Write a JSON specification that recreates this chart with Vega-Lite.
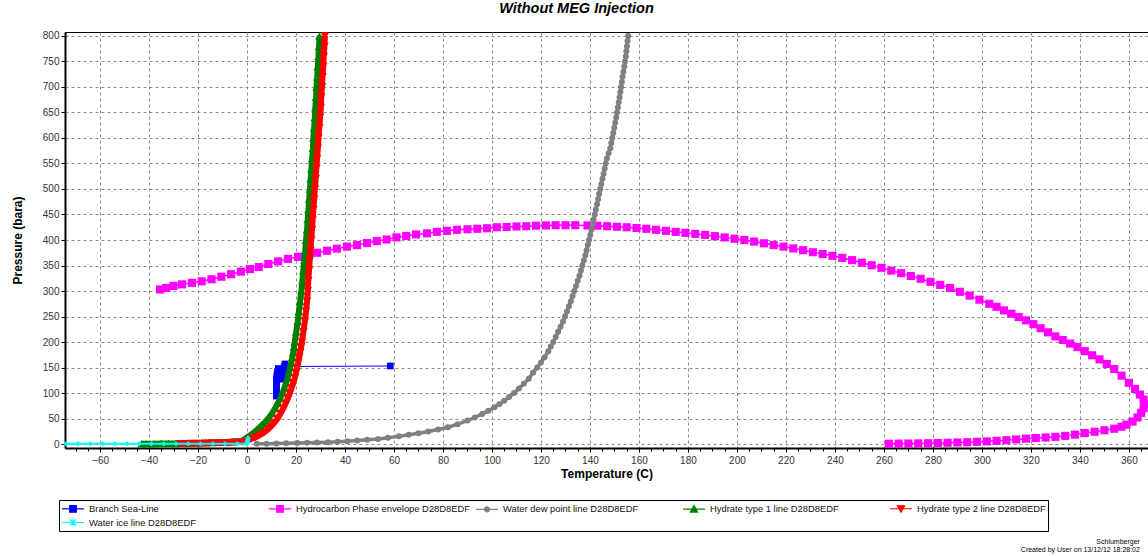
{
  "$schema": "https://vega.github.io/schema/vega-lite/v6.json",
  "autosize": {"type": "none"},
  "padding": {"left": 65, "top": 32, "right": 0, "bottom": 108},
  "width": 1083,
  "height": 416,
  "background": "white",
  "title": {"text": "Without MEG Injection", "fontSize": 14.5, "fontWeight": "bold", "fontStyle": "italic", "color": "#000", "anchor": "middle", "offset": 7, "dx": -30},
  "datasets": {
    "branch": [
      {"i":0,"t":58.5,"p":153},{"i":2,"t":17,"p":152},{"i":3,"t":15.5,"p":157},{"i":4,"t":15.2,"p":152},{"i":5,"t":15,"p":147},{"i":6,"t":14.8,"p":142},{"i":7,"t":14.6,"p":137},{"i":8,"t":14.4,"p":132},{"i":9,"t":14.2,"p":127},{"i":10,"t":12.8,"p":148},{"i":11,"t":12.5,"p":143},{"i":12,"t":12.3,"p":138},{"i":13,"t":12.2,"p":133},{"i":14,"t":12.1,"p":128},{"i":15,"t":12,"p":123},{"i":16,"t":12,"p":118},{"i":17,"t":12,"p":113},{"i":18,"t":12,"p":108},{"i":19,"t":12,"p":103},{"i":20,"t":12,"p":98},{"i":21,"t":12,"p":94}
    ],
    "envelope": [
      {"i":0,"t":-35.5,"p":303},{"i":1,"t":-33,"p":306},{"i":2,"t":-30,"p":310},{"i":3,"t":-26.5,"p":313},{"i":4,"t":-22.5,"p":316},{"i":5,"t":-18.5,"p":319},{"i":6,"t":-14.5,"p":323},{"i":7,"t":-10.5,"p":328},{"i":8,"t":-6.5,"p":333},{"i":9,"t":-2.5,"p":338},{"i":10,"t":1.2,"p":343},{"i":11,"t":4.8,"p":347},{"i":12,"t":8.7,"p":353},{"i":13,"t":12.7,"p":358},{"i":14,"t":16.7,"p":363},{"i":15,"t":20.8,"p":367},{"i":16,"t":24.7,"p":371},{"i":17,"t":28.6,"p":375},{"i":18,"t":32.7,"p":379},{"i":19,"t":36.7,"p":383},{"i":20,"t":40.8,"p":387},{"i":21,"t":44.9,"p":390},{"i":22,"t":49,"p":394},{"i":23,"t":53,"p":398},{"i":24,"t":57,"p":401},{"i":25,"t":61,"p":405},{"i":26,"t":65,"p":408},{"i":27,"t":69,"p":411},{"i":28,"t":73.5,"p":413},{"i":29,"t":77.5,"p":416},{"i":30,"t":81.6,"p":418},{"i":31,"t":85.7,"p":420},{"i":32,"t":90,"p":421},{"i":33,"t":94,"p":422},{"i":34,"t":98,"p":423},{"i":35,"t":102,"p":425},{"i":36,"t":106,"p":425.5},{"i":37,"t":110,"p":426.5},{"i":38,"t":114,"p":427},{"i":39,"t":118,"p":428},{"i":40,"t":122,"p":428.5},{"i":41,"t":126,"p":429},{"i":42,"t":130,"p":429},{"i":43,"t":134,"p":429},{"i":44,"t":139,"p":428.5},{"i":45,"t":143,"p":428},{"i":46,"t":147,"p":427},{"i":47,"t":151,"p":426},{"i":48,"t":155,"p":425},{"i":49,"t":159,"p":423.5},{"i":50,"t":163,"p":422},{"i":51,"t":167,"p":420},{"i":52,"t":171,"p":418},{"i":53,"t":175,"p":416},{"i":54,"t":179,"p":414},{"i":55,"t":183,"p":412},{"i":56,"t":187,"p":410},{"i":57,"t":191,"p":407.5},{"i":58,"t":195,"p":405},{"i":59,"t":199,"p":402.5},{"i":60,"t":203,"p":400},{"i":61,"t":207,"p":397},{"i":62,"t":211,"p":393.5},{"i":63,"t":215,"p":390},{"i":64,"t":219,"p":387},{"i":65,"t":223,"p":383.5},{"i":66,"t":227,"p":380},{"i":67,"t":231,"p":376},{"i":68,"t":235,"p":372.5},{"i":69,"t":239,"p":369},{"i":70,"t":243,"p":365},{"i":71,"t":247,"p":360.5},{"i":72,"t":251,"p":355.5},{"i":73,"t":255,"p":350.5},{"i":74,"t":259,"p":345.5},{"i":75,"t":263,"p":340},{"i":76,"t":267,"p":335},{"i":77,"t":271,"p":329.5},{"i":78,"t":275,"p":324},{"i":79,"t":279,"p":318},{"i":80,"t":283,"p":312},{"i":81,"t":287,"p":306},{"i":82,"t":291,"p":298.5},{"i":83,"t":295,"p":291},{"i":84,"t":299,"p":283},{"i":85,"t":303,"p":275},{"i":86,"t":306,"p":269},{"i":87,"t":309,"p":262},{"i":88,"t":312,"p":255.5},{"i":89,"t":315,"p":249},{"i":90,"t":318,"p":242.5},{"i":91,"t":321,"p":235},{"i":92,"t":324,"p":227},{"i":93,"t":327,"p":219},{"i":94,"t":330,"p":211},{"i":95,"t":333,"p":204},{"i":96,"t":336,"p":197},{"i":97,"t":339,"p":190},{"i":98,"t":342,"p":182},{"i":99,"t":345,"p":174},{"i":100,"t":348,"p":166},{"i":101,"t":351,"p":157},{"i":102,"t":354,"p":147},{"i":103,"t":357,"p":134},{"i":104,"t":360,"p":120},{"i":105,"t":362.5,"p":108},{"i":106,"t":364.5,"p":97},{"i":107,"t":366,"p":87},{"i":108,"t":366.5,"p":78},{"i":109,"t":366,"p":70},{"i":110,"t":365,"p":61},{"i":111,"t":363.5,"p":52},{"i":112,"t":361.5,"p":44},{"i":113,"t":359,"p":38},{"i":114,"t":357,"p":34},{"i":115,"t":354,"p":30},{"i":116,"t":350,"p":27},{"i":117,"t":346,"p":24},{"i":118,"t":342,"p":21.5},{"i":119,"t":338,"p":18.5},{"i":120,"t":334,"p":16},{"i":121,"t":330,"p":14},{"i":122,"t":326,"p":12.8},{"i":123,"t":322,"p":11.8},{"i":124,"t":318,"p":10.5},{"i":125,"t":314,"p":9},{"i":126,"t":310,"p":7.5},{"i":127,"t":306,"p":6.2},{"i":128,"t":302,"p":5.2},{"i":129,"t":298,"p":4.3},{"i":130,"t":294,"p":3.6},{"i":131,"t":290,"p":3},{"i":132,"t":286,"p":2.5},{"i":133,"t":282,"p":2},{"i":134,"t":278,"p":1.6},{"i":135,"t":274,"p":1.3},{"i":136,"t":270,"p":1},{"i":137,"t":266,"p":0.8},{"i":138,"t":262,"p":0.6}
    ],
    "dew": [
      {"i":0,"t":4,"p":0.5},{"i":1,"t":8,"p":0.7},{"i":2,"t":12,"p":1},{"i":3,"t":16,"p":1.4},{"i":4,"t":20.5,"p":1.9},{"i":5,"t":24.5,"p":2.4},{"i":6,"t":28.5,"p":3},{"i":7,"t":33,"p":3.6},{"i":8,"t":37,"p":4.4},{"i":9,"t":41,"p":5.4},{"i":10,"t":45,"p":6.7},{"i":11,"t":49,"p":8.2},{"i":12,"t":53.5,"p":10},{"i":13,"t":57.5,"p":12.3},{"i":14,"t":62,"p":15},{"i":15,"t":66,"p":18},{"i":16,"t":70,"p":21},{"i":17,"t":74,"p":24.5},{"i":18,"t":78,"p":28.5},{"i":19,"t":82,"p":33},{"i":20,"t":86,"p":39},{"i":21,"t":90,"p":46},{"i":22,"t":93,"p":52},{"i":23,"t":96,"p":59},{"i":24,"t":98.5,"p":65},{"i":25,"t":101,"p":72},{"i":26,"t":103,"p":78},{"i":27,"t":105,"p":85},{"i":28,"t":107,"p":92},{"i":29,"t":109,"p":100},{"i":30,"t":111,"p":109},{"i":31,"t":113,"p":118},{"i":32,"t":115,"p":128},{"i":33,"t":116.8,"p":140},{"i":34,"t":118.5,"p":150},{"i":35,"t":120,"p":160},{"i":36,"t":121.5,"p":170},{"i":37,"t":123,"p":182},{"i":38,"t":124,"p":191},{"i":39,"t":125,"p":200},{"i":40,"t":126,"p":210},{"i":41,"t":127,"p":220},{"i":42,"t":128,"p":230},{"i":43,"t":129,"p":240},{"i":44,"t":129.8,"p":250},{"i":45,"t":130.6,"p":260},{"i":46,"t":131.4,"p":270},{"i":47,"t":132.2,"p":280},{"i":48,"t":132.9,"p":290},{"i":49,"t":133.6,"p":300},{"i":50,"t":134.3,"p":310},{"i":51,"t":135,"p":320},{"i":52,"t":135.7,"p":330},{"i":53,"t":136.3,"p":340},{"i":54,"t":136.9,"p":350},{"i":55,"t":137.5,"p":360},{"i":56,"t":138.1,"p":370},{"i":57,"t":138.6,"p":380},{"i":58,"t":139.1,"p":390},{"i":59,"t":139.6,"p":400},{"i":60,"t":140.1,"p":410},{"i":61,"t":140.6,"p":420},{"i":62,"t":141.1,"p":430},{"i":63,"t":141.5,"p":440},{"i":64,"t":142,"p":450},{"i":65,"t":142.4,"p":460},{"i":66,"t":142.9,"p":470},{"i":67,"t":143.3,"p":480},{"i":68,"t":143.75,"p":490},{"i":69,"t":144.2,"p":500},{"i":70,"t":144.65,"p":510},{"i":71,"t":145.1,"p":520},{"i":72,"t":145.55,"p":530},{"i":73,"t":146,"p":540},{"i":74,"t":146.45,"p":550},{"i":75,"t":146.9,"p":560},{"i":76,"t":147.6,"p":570},{"i":77,"t":148.3,"p":580},{"i":78,"t":148.7,"p":590},{"i":79,"t":149.1,"p":600},{"i":80,"t":149.5,"p":610},{"i":81,"t":149.9,"p":620},{"i":82,"t":150.3,"p":630},{"i":83,"t":150.7,"p":640},{"i":84,"t":151.05,"p":650},{"i":85,"t":151.4,"p":660},{"i":86,"t":151.75,"p":670},{"i":87,"t":152.1,"p":680},{"i":88,"t":152.4,"p":690},{"i":89,"t":152.7,"p":700},{"i":90,"t":153,"p":710},{"i":91,"t":153.3,"p":720},{"i":92,"t":153.65,"p":730},{"i":93,"t":154,"p":740},{"i":94,"t":154.3,"p":750},{"i":95,"t":154.6,"p":760},{"i":96,"t":154.85,"p":770},{"i":97,"t":155.1,"p":780},{"i":98,"t":155.35,"p":790},{"i":99,"t":155.6,"p":800}
    ],
    "hydrate1": [
      {"i":0,"t":-43,"p":0.5},{"i":1,"t":-41,"p":0.6},{"i":2,"t":-38,"p":0.7},{"i":3,"t":-35,"p":0.8},{"i":4,"t":-32,"p":0.9},{"i":5,"t":-29,"p":1.1},{"i":6,"t":-26,"p":1.3},{"i":7,"t":-23,"p":1.6},{"i":8,"t":-20,"p":2},{"i":9,"t":-17,"p":2.4},{"i":10,"t":-14,"p":2.9},{"i":11,"t":-11,"p":3.5},{"i":12,"t":-8,"p":4.2},{"i":13,"t":-5,"p":5},{"i":14,"t":-2,"p":6},{"i":15,"t":0,"p":13},{"i":16,"t":1.2,"p":17},{"i":17,"t":2.6,"p":22},{"i":18,"t":4.1,"p":28},{"i":19,"t":5.7,"p":35},{"i":20,"t":7.2,"p":42},{"i":21,"t":8.7,"p":50},{"i":22,"t":10.2,"p":60},{"i":23,"t":11.5,"p":70},{"i":24,"t":12.6,"p":80},{"i":25,"t":13.6,"p":90},{"i":26,"t":14.5,"p":100},{"i":27,"t":15.3,"p":110},{"i":28,"t":16,"p":120},{"i":29,"t":16.6,"p":130},{"i":30,"t":17.1,"p":140},{"i":31,"t":17.6,"p":150},{"i":32,"t":18.1,"p":160},{"i":33,"t":18.5,"p":170},{"i":34,"t":18.9,"p":180},{"i":35,"t":19.2,"p":190},{"i":36,"t":19.5,"p":200},{"i":37,"t":20.1,"p":220},{"i":38,"t":20.7,"p":240},{"i":39,"t":21.2,"p":260},{"i":40,"t":21.7,"p":280},{"i":41,"t":22.2,"p":300},{"i":42,"t":22.6,"p":320},{"i":43,"t":23,"p":340},{"i":44,"t":23.4,"p":360},{"i":45,"t":23.8,"p":380},{"i":46,"t":24.1,"p":400},{"i":47,"t":24.5,"p":420},{"i":48,"t":24.8,"p":440},{"i":49,"t":25.1,"p":460},{"i":50,"t":25.4,"p":480},{"i":51,"t":25.7,"p":500},{"i":52,"t":26,"p":520},{"i":53,"t":26.3,"p":540},{"i":54,"t":26.6,"p":560},{"i":55,"t":26.9,"p":580},{"i":56,"t":27.1,"p":600},{"i":57,"t":27.4,"p":620},{"i":58,"t":27.7,"p":640},{"i":59,"t":27.9,"p":660},{"i":60,"t":28.2,"p":680},{"i":61,"t":28.4,"p":700},{"i":62,"t":28.7,"p":720},{"i":63,"t":28.9,"p":740},{"i":64,"t":29.2,"p":760},{"i":65,"t":29.4,"p":780},{"i":66,"t":29.6,"p":800}
    ],
    "hydrate2": [
      {"i":0,"t":-27.5,"p":0.5},{"i":1,"t":-26,"p":0.6},{"i":2,"t":-23,"p":0.8},{"i":3,"t":-20,"p":1.1},{"i":4,"t":-17,"p":1.4},{"i":5,"t":-14,"p":1.8},{"i":6,"t":-11,"p":2.2},{"i":7,"t":-8,"p":2.7},{"i":8,"t":-5,"p":3.3},{"i":9,"t":-2,"p":4},{"i":10,"t":0.3,"p":8},{"i":11,"t":1.6,"p":10},{"i":12,"t":3.3,"p":13},{"i":13,"t":5,"p":17},{"i":14,"t":6.8,"p":22},{"i":15,"t":8.4,"p":28},{"i":16,"t":9.9,"p":35},{"i":17,"t":11.2,"p":42},{"i":18,"t":12.5,"p":50},{"i":19,"t":13.7,"p":60},{"i":20,"t":14.8,"p":70},{"i":21,"t":15.8,"p":80},{"i":22,"t":16.7,"p":90},{"i":23,"t":17.5,"p":100},{"i":24,"t":18.2,"p":110},{"i":25,"t":18.9,"p":120},{"i":26,"t":19.5,"p":130},{"i":27,"t":20,"p":140},{"i":28,"t":20.5,"p":150},{"i":29,"t":20.9,"p":160},{"i":30,"t":21.3,"p":170},{"i":31,"t":21.7,"p":180},{"i":32,"t":22.1,"p":190},{"i":33,"t":22.4,"p":200},{"i":34,"t":23,"p":220},{"i":35,"t":23.6,"p":240},{"i":36,"t":24.1,"p":260},{"i":37,"t":24.5,"p":280},{"i":38,"t":24.8,"p":300},{"i":39,"t":25,"p":320},{"i":40,"t":25.3,"p":340},{"i":41,"t":25.6,"p":360},{"i":42,"t":25.9,"p":380},{"i":43,"t":26.2,"p":400},{"i":44,"t":26.5,"p":420},{"i":45,"t":26.8,"p":440},{"i":46,"t":27.1,"p":460},{"i":47,"t":27.4,"p":480},{"i":48,"t":27.7,"p":500},{"i":49,"t":28,"p":520},{"i":50,"t":28.3,"p":540},{"i":51,"t":28.6,"p":560},{"i":52,"t":28.9,"p":580},{"i":53,"t":29.2,"p":600},{"i":54,"t":29.5,"p":620},{"i":55,"t":29.8,"p":640},{"i":56,"t":30.1,"p":660},{"i":57,"t":30.3,"p":680},{"i":58,"t":30.6,"p":700},{"i":59,"t":30.8,"p":720},{"i":60,"t":31.1,"p":740},{"i":61,"t":31.3,"p":760},{"i":62,"t":31.6,"p":780},{"i":63,"t":31.8,"p":800}
    ],
    "ice": [
      {"i":0,"t":-74,"p":0.5},{"i":1,"t":-69,"p":0.5},{"i":2,"t":-64,"p":0.5},{"i":3,"t":-59,"p":0.5},{"i":4,"t":-54,"p":0.5},{"i":5,"t":-49,"p":0.5},{"i":6,"t":-44,"p":0.5},{"i":7,"t":-39,"p":0.5},{"i":8,"t":-34,"p":0.5},{"i":9,"t":-29,"p":0.5},{"i":10,"t":-24,"p":0.5},{"i":11,"t":-19,"p":0.5},{"i":12,"t":-14,"p":0.5},{"i":13,"t":-9,"p":0.5},{"i":14,"t":-4,"p":0.5},{"i":15,"t":0,"p":0.6},{"i":16,"t":0,"p":3},{"i":17,"t":0.2,"p":6},{"i":18,"t":0.3,"p":9},{"i":19,"t":0.4,"p":12}
    ]
  },
  "resolve": {"axis": {"x": "independent"}},
  "layer": [
    {
      "data": {"name": "branch"},
      "mark": {"type": "line", "strokeWidth": 1.2, "point": {"filled": true, "shape": "square", "size": 45, "opacity": 1}},
      "encoding": {
        "x": {"field": "t", "type": "quantitative", "scale": {"domain": [-74.3, 367.8], "nice": false, "zero": false},
          "axis": {"orient": "bottom", "tickCount": 22, "title": "Temperature (C)", "titlePadding": 3, "labelPadding": 3, "grid": true, "labelOverlap": false}},
        "y": {"field": "p", "type": "quantitative", "scale": {"domain": [-7.8, 807.8], "nice": false, "zero": false},
          "axis": {"tickCount": 17, "title": "Pressure (bara)", "titlePadding": 18, "labelPadding": 2, "grid": true, "labelOverlap": false}},
        "color": {"datum": "Branch Sea-Line",
          "scale": {"domain": ["Branch Sea-Line", "Hydrocarbon Phase envelope D28D8EDF", "Water dew point line D28D8EDF", "Hydrate type 1 line D28D8EDF", "Hydrate type 2 line D28D8EDF", "Water ice line D28D8EDF"], "range": ["#0000FF", "#FF00FF", "#808080", "#008000", "#FF0000", "#00FFFF"]},
          "legend": {"title": null, "orient": "none", "legendX": -6, "legendY": 468, "direction": "horizontal", "columns": 5, "gridAlign": "all", "columnPadding": 2, "rowPadding": 1, "padding": 2, "strokeColor": "#000", "fillColor": "#fff", "labelFontSize": 9.4, "labelColor": "#111", "labelOffset": 15, "labelLimit": 400, "symbolSize": 121, "symbolStrokeWidth": 1.2, "symbolOpacity": 1,
            "encoding": {"symbols": {
              "shape": {"value": {"expr": "datum.value == 'Branch Sea-Line' || datum.value == 'Hydrocarbon Phase envelope D28D8EDF' ? 'M-1,0H3M0.4,-0.6H1.6V0.6H0.4Z' : datum.value == 'Water dew point line D28D8EDF' ? 'M-1,0H3M0.55,0A0.45,0.45 0 1,0 1.45,0A0.45,0.45 0 1,0 0.55,0Z' : datum.value == 'Hydrate type 1 line D28D8EDF' ? 'M-1,0H3M0.35,0.55L1,-0.65L1.65,0.55Z' : datum.value == 'Hydrate type 2 line D28D8EDF' ? 'M-1,0H3M0.35,-0.55L1,0.65L1.65,-0.55Z' : 'M-1,0H3M0.45,-0.55L1.55,0.55M0.45,0.55L1.55,-0.55M1,-0.7V0.7'"}},
              "fill": {"value": {"expr": "scale('color', datum.value)"}},
              "stroke": {"value": {"expr": "scale('color', datum.value)"}},
              "strokeWidth": {"value": 1.2},
              "size": {"value": 121},
              "opacity": {"value": 1}
            }}}},
        "order": {"field": "i", "type": "quantitative"}
      }
    },
    {
      "data": {"name": "envelope"},
      "mark": {"type": "line", "strokeWidth": 1.5, "point": {"filled": true, "shape": "square", "size": 66, "opacity": 1}},
      "encoding": {
        "x": {"field": "t", "type": "quantitative", "axis": null},
        "y": {"field": "p", "type": "quantitative"},
        "color": {"datum": "Hydrocarbon Phase envelope D28D8EDF"},
        "order": {"field": "i", "type": "quantitative"}
      }
    },
    {
      "data": {"name": "dew"},
      "mark": {"type": "line", "strokeWidth": 3.5, "point": {"filled": true, "shape": "circle", "size": 36, "opacity": 1}},
      "encoding": {
        "x": {"field": "t", "type": "quantitative", "axis": null},
        "y": {"field": "p", "type": "quantitative"},
        "color": {"datum": "Water dew point line D28D8EDF"},
        "order": {"field": "i", "type": "quantitative"}
      }
    },
    {
      "data": {"name": "hydrate1"},
      "mark": {"type": "line", "strokeWidth": 6, "point": {"filled": true, "shape": "triangle-up", "size": 75, "opacity": 1}},
      "encoding": {
        "x": {"field": "t", "type": "quantitative", "axis": null},
        "y": {"field": "p", "type": "quantitative"},
        "color": {"datum": "Hydrate type 1 line D28D8EDF"},
        "order": {"field": "i", "type": "quantitative"}
      }
    },
    {
      "data": {"name": "hydrate2"},
      "mark": {"type": "line", "strokeWidth": 6, "point": {"filled": true, "shape": "triangle-down", "size": 75, "opacity": 1}},
      "encoding": {
        "x": {"field": "t", "type": "quantitative", "axis": null},
        "y": {"field": "p", "type": "quantitative"},
        "color": {"datum": "Hydrate type 2 line D28D8EDF"},
        "order": {"field": "i", "type": "quantitative"}
      }
    },
    {
      "data": {"name": "ice"},
      "mark": {"type": "line", "strokeWidth": 2, "point": {"filled": true, "shape": "cross", "size": 22, "opacity": 1}},
      "encoding": {
        "x": {"field": "t", "type": "quantitative", "axis": null},
        "y": {"field": "p", "type": "quantitative"},
        "color": {"datum": "Water ice line D28D8EDF"},
        "order": {"field": "i", "type": "quantitative"}
      }
    },
    {
      "data": {"values": [{"note": "footer"}]},
      "mark": {"type": "text", "align": "right", "baseline": "middle", "fontSize": 7, "lineHeight": 8, "color": "#000"},
      "encoding": {
        "x": {"datum": 364.5, "type": "quantitative",
          "axis": {"orient": "bottom", "values": [-70,-65,-55,-50,-45,-35,-30,-25,-15,-10,-5,5,10,15,25,30,35,45,50,55,65,70,75,85,90,95,105,110,115,125,130,135,145,150,155,165,170,175,185,190,195,205,210,215,225,230,235,245,250,255,265,270,275,285,290,295,305,310,315,325,330,335,345,350,355,365], "labels": false, "grid": false, "domain": false, "tickSize": 3, "title": null}},
        "y": {"datum": -193, "type": "quantitative"},
        "text": {"value": ["Schlumberger", "Created by User on 13/12/12 18:28:02"]}
      }
    }
  ],
  "config": {
    "font": "Liberation Sans",
    "view": {"stroke": "#000", "strokeWidth": 1},
    "axis": {"gridColor": "#8a8a8a", "gridDash": [3, 3], "gridWidth": 1, "gridOpacity": 1, "domainColor": "#000", "domainWidth": 2, "tickColor": "#000", "tickSize": 4, "tickWidth": 1, "labelFontSize": 10, "labelColor": "#333", "titleFontSize": 12, "titleFontWeight": "bold", "titleColor": "#000", "labelOverlap": false}
  }
}
